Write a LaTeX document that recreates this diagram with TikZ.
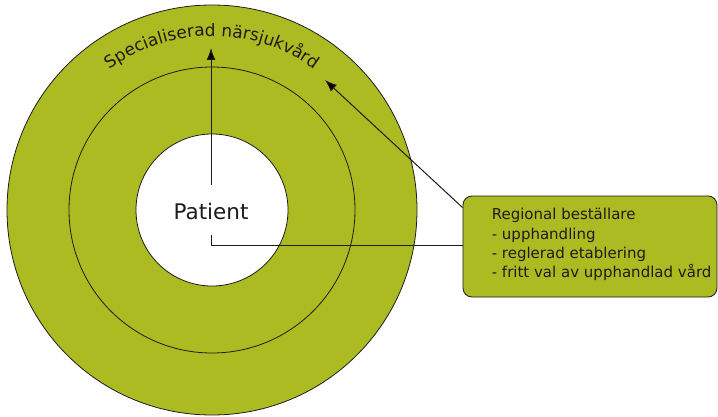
\documentclass[tikz,border=0pt]{standalone}
\usepackage{fontspec}
\setmainfont{DejaVu Sans}
\usepackage{tikz}
\usetikzlibrary{positioning}
\usetikzlibrary{calc,arrows.meta,decorations.text}

\definecolor{ringgreen}{RGB}{173,187,34}
\definecolor{ink}{RGB}{30,27,28}

\begin{document}
\begin{tikzpicture}[x=1pt, y=1pt, ring/.style={draw=ink, line width=0.8pt},
    box/.style={draw=ink, fill=ringgreen, rounded corners=9pt, line width=0.8pt,
    minimum width=254pt, minimum height=101pt}, link/.style={draw=ink, line width=1pt},
    >={Latex[length=12pt,width=9pt]}]

  \useasboundingbox (0,0) rectangle (718,416);
  \coordinate (C) at (212,206);
  \filldraw[ring, fill=ringgreen] (C) circle (205);
  \draw[ring] (C) circle (143);
  \filldraw[ring, fill=white] (C) circle (76);
  \path[decorate, decoration={text along path, text align=center, text color=ink,
    text={|\fontsize{17}{17}\selectfont|Specialiserad närsjukvård}}]
    ($(C)+(128:174)$) arc[start angle=128, end angle=52, radius=174];

  \node[inner sep=0, anchor=base, font=\fontsize{21.5}{22}\selectfont, text=ink] (patient) at (211,197) {Patient};
  \node[box] (buyer) at (590,169.5) {};
  \node[anchor=north west, inner sep=0, align=left, font=\fontsize{15}{19.3}\selectfont, text=ink]
    (buyertext) at ([xshift=29pt, yshift=-12.6pt]buyer.north west)
    {Regional beställare\\- upphandling\\- reglerad etablering\\- fritt val av upphandlad vård};

  \coordinate (ringtop) at (211,368);
  \coordinate (labeltip) at (325,336);
  \draw[link, ->] ([yshift=17.7pt]patient.north) -- (ringtop);
  \draw[link] ([yshift=-15pt]patient.south) |- ([yshift=1.5pt]buyer.west);
  \draw[link, ->] ([yshift=-12pt]buyer.north west) -- (labeltip);
  %\draw[link] (buyer.west) -- (C);
\end{tikzpicture}
\end{document}
